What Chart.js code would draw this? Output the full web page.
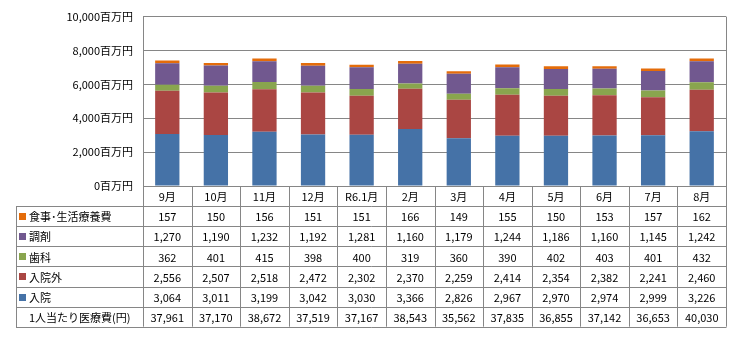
<!DOCTYPE html>
<html>
<head>
<meta charset="utf-8">
<script src="https://cdn.jsdelivr.net/npm/chart.js@4/dist/chart.umd.min.js"></script>
<style>
  html, body { margin: 0; padding: 0; background: #fff; }
  #wrap { width: 733px; height: 340px; }
</style>
</head>
<body>
<div id="wrap"><canvas id="chart" width="733" height="340"></canvas></div>
<script>
// months on the x axis
const months = ['9月', '10月', '11月', '12月', 'R6.1月', '2月', '3月', '4月', '5月', '6月', '7月', '8月'];

// series values (百万円), stacked bottom to top
const nyuin    = [3064, 3011, 3199, 3042, 3030, 3366, 2826, 2967, 2970, 2974, 2999, 3226];
const nyuingai = [2556, 2507, 2518, 2472, 2302, 2370, 2259, 2414, 2354, 2382, 2241, 2460];
const shika    = [362, 401, 415, 398, 400, 319, 360, 390, 402, 403, 401, 432];
const chozai   = [1270, 1190, 1232, 1192, 1281, 1160, 1179, 1244, 1186, 1160, 1145, 1242];
const shokuji  = [157, 150, 156, 151, 151, 166, 149, 155, 150, 153, 157, 162];

// per-person cost (円), table only
const perPerson = [37961, 37170, 38672, 37519, 37167, 38543, 35562, 37835, 36855, 37142, 36653, 40030];

const yTicks = [0, 2000, 4000, 6000, 8000, 10000];

const FONT = '"Noto Sans CJK JP", "Noto Sans", sans-serif';
const GRID = '#868686';

const series = [
  { label: '入院', data: nyuin, color: '#4572A7' },
  { label: '入院外', data: nyuingai, color: '#AA4643' },
  { label: '歯科', data: shika, color: '#89A54E' },
  { label: '調剤', data: chozai, color: '#71588F' },
  { label: '食事･生活療養費', data: shokuji, color: '#E46C0A' }
];

// table rows, top to bottom
const tableRows = [
  { label: '食事･生活療養費', data: shokuji, color: '#E46C0A' },
  { label: '調剤', data: chozai, color: '#71588F' },
  { label: '歯科', data: shika, color: '#89A54E' },
  { label: '入院外', data: nyuingai, color: '#AA4643' },
  { label: '入院', data: nyuin, color: '#4572A7' },
  { label: '1人当たり医療費(円)', data: perPerson, color: null }
];

const fmt = v => v.toLocaleString('en-US');

const dataTable = {
  id: 'dataTable',
  afterDraw(chart) {
    const ctx = chart.ctx;
    const area = chart.chartArea;
    const xs = chart.scales.x;
    const n = months.length;
    const colW = (area.right - area.left) / n;
    const rowH = 20.1;
    const top = area.bottom;
    const tableLeft = 16;
    const bottom = top + rowH * (tableRows.length + 1);

    ctx.save();
    ctx.strokeStyle = GRID;
    ctx.lineWidth = 1;
    ctx.beginPath();
    // horizontal lines
    for (let r = 1; r <= tableRows.length + 1; r++) {
      const y = Math.round(top + r * rowH) + 0.5;
      ctx.moveTo(tableLeft, y);
      ctx.lineTo(area.right + 0.5, y);
    }
    // vertical lines between columns
    for (let i = 0; i <= n; i++) {
      const x = Math.round(area.left + i * colW) + 0.5;
      ctx.moveTo(x, i === n ? area.top : top);
      ctx.lineTo(x, bottom);
    }
    // left border of the body
    ctx.moveTo(tableLeft + 0.5, Math.round(top + rowH) + 0.5);
    ctx.lineTo(tableLeft + 0.5, Math.round(bottom) + 0.5);
    ctx.stroke();

    ctx.fillStyle = '#000';
    ctx.font = '11px ' + FONT;
    ctx.textBaseline = 'middle';
    ctx.textAlign = 'center';
    months.forEach((m, i) => {
      ctx.fillText(m, xs.getPixelForValue(i), top + rowH / 2 + 1);
    });

    tableRows.forEach((row, r) => {
      const yc = top + (r + 1.5) * rowH + 1;
      ctx.textAlign = 'left';
      if (row.color) {
        ctx.fillStyle = row.color;
        ctx.fillRect(tableLeft + 3, Math.round(yc) - 4, 7, 7);
      }
      ctx.fillStyle = '#000';
      ctx.font = '11px ' + FONT;
      ctx.fillText(row.label, tableLeft + 13, yc);
      ctx.textAlign = 'center';
      row.data.forEach((v, i) => {
        ctx.fillText(fmt(v), xs.getPixelForValue(i), yc);
      });
    });
    ctx.restore();
  }
};

new Chart(document.getElementById('chart'), {
  type: 'bar',
  data: {
    labels: months,
    datasets: series.map(s => ({
      label: s.label,
      data: s.data,
      backgroundColor: s.color,
      borderWidth: 0,
      barPercentage: 0.5,
      categoryPercentage: 1
    }))
  },
  options: {
    responsive: false,
    animation: false,
    layout: { padding: { top: 10, right: 7, left: 0, bottom: 0 } },
    plugins: {
      legend: { display: false },
      tooltip: { enabled: false }
    },
    scales: {
      x: {
        stacked: true,
        ticks: { display: false },
        grid: { display: false, drawTicks: false },
        border: { display: true, color: GRID },
        afterFit(scale) { scale.height = 154; }
      },
      y: {
        stacked: true,
        min: 0,
        max: 10000,
        afterBuildTicks(scale) { scale.ticks = yTicks.map(v => ({ value: v })); },
        ticks: {
          padding: 10,
          color: '#000',
          font: { family: FONT, size: 11 },
          callback: v => fmt(v) + '百万円'
        },
        grid: { color: GRID, drawTicks: false },
        border: { color: GRID },
        afterFit(scale) { scale.width = 143; }
      }
    }
  },
  plugins: [dataTable]
});
</script>
</body>
</html>
